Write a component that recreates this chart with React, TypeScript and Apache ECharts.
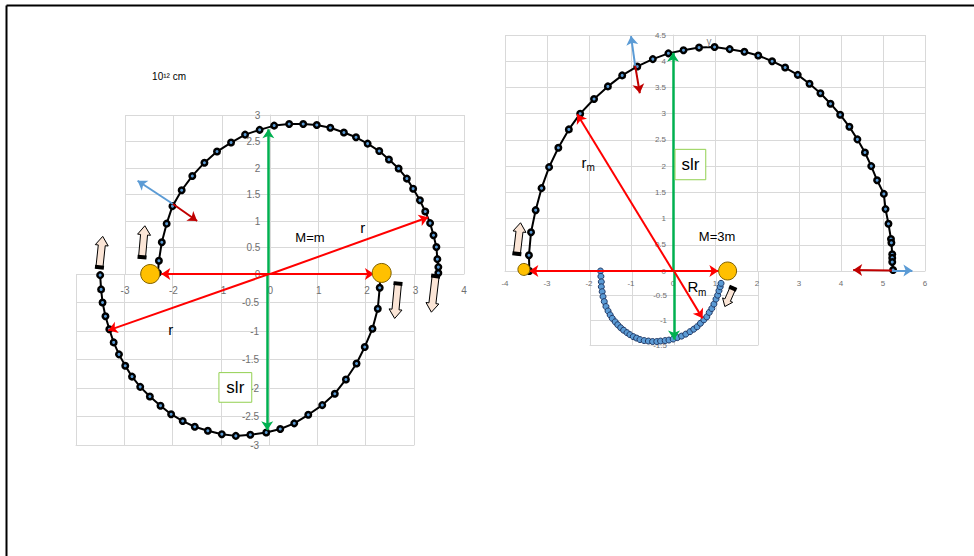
import React, { useEffect, useRef } from "react";
import * as echarts from "echarts";

const FONT = "'Liberation Sans', Arial, sans-serif";
const GRID_LINE = "#d9d9d9";
const TICK_TEXT = "#6f6f6f";

// ---- Orbit samples (units of 10^12 cm) ----
// Left panel, equal masses: upper half (y >= 0) and lower half (y <= 0)
const leftUpperOrbit: number[][] = [
  [-2.32, 0.02], [-2.3, 0.25], [-2.24, 0.6], [-2.14, 0.95], [-2.02, 1.28], [-1.83, 1.58],
  [-1.61, 1.85], [-1.36, 2.1], [-1.1, 2.31], [-0.81, 2.48], [-0.52, 2.63], [-0.22, 2.72],
  [0.08, 2.8], [0.39, 2.83], [0.68, 2.83], [0.96, 2.81], [1.24, 2.76], [1.52, 2.67],
  [1.77, 2.58], [2.01, 2.46], [2.25, 2.32], [2.45, 2.16], [2.65, 1.99], [2.82, 1.8],
  [2.95, 1.61], [3.09, 1.39], [3.2, 1.18], [3.3, 0.96], [3.37, 0.73], [3.43, 0.51],
  [3.45, 0.28], [3.47, 0.13], [3.47, 0.02],
];
const leftLowerOrbit: number[][] = [
  [2.3, -0.05], [2.29, -0.24], [2.25, -0.61], [2.14, -0.96], [1.98, -1.28], [1.81, -1.57],
  [1.59, -1.85], [1.36, -2.1], [1.1, -2.3], [0.81, -2.47], [0.52, -2.62], [0.23, -2.72],
  [-0.06, -2.78], [-0.39, -2.82], [-0.69, -2.84], [-0.98, -2.81], [-1.27, -2.75],
  [-1.54, -2.68], [-1.79, -2.58], [-2.03, -2.46], [-2.25, -2.31], [-2.47, -2.15],
  [-2.67, -1.98], [-2.84, -1.8], [-2.98, -1.61], [-3.11, -1.41], [-3.22, -1.2],
  [-3.31, -0.97], [-3.39, -0.74], [-3.45, -0.5], [-3.48, -0.27], [-3.5, -0.02],
];
// Right panel, M = 3m: orbit of the light body and of the heavy body
const rightUpperOrbit: number[][] = [
  [-3.42, 0.0], [-3.43, 0.3], [-3.38, 0.74], [-3.27, 1.16], [-3.13, 1.58], [-2.95, 1.98],
  [-2.73, 2.35], [-2.48, 2.7], [-2.21, 3.0], [-1.88, 3.28], [-1.55, 3.52], [-1.21, 3.73],
  [-0.85, 3.9], [-0.48, 4.04], [-0.11, 4.15], [0.25, 4.21], [0.62, 4.26], [0.99, 4.27],
  [1.35, 4.23], [1.7, 4.18], [2.03, 4.11], [2.36, 4.0], [2.67, 3.88], [2.97, 3.74],
  [3.25, 3.57], [3.51, 3.39], [3.75, 3.19], [3.98, 2.98], [4.2, 2.75], [4.39, 2.51],
  [4.57, 2.26], [4.72, 2.0], [4.86, 1.73], [5.02, 1.47], [5.06, 1.18], [5.13, 0.9],
  [5.19, 0.61], [5.2, 0.54], [5.22, 0.32], [5.22, 0.25], [5.22, 0.17], [5.24, 0.02],
];
const rightLowerOrbit: number[][] = [
  [-1.75, 0.0], [-1.74, -0.11], [-1.73, -0.22], [-1.73, -0.32], [-1.71, -0.42], [-1.69, -0.52],
  [-1.66, -0.62], [-1.62, -0.72], [-1.57, -0.81], [-1.52, -0.89], [-1.47, -0.96], [-1.4, -1.03],
  [-1.34, -1.09], [-1.27, -1.15], [-1.2, -1.2], [-1.12, -1.25], [-1.05, -1.29], [-0.97, -1.33],
  [-0.89, -1.36], [-0.81, -1.39], [-0.71, -1.41], [-0.61, -1.42], [-0.51, -1.43], [-0.41, -1.43],
  [-0.32, -1.42], [-0.21, -1.41], [-0.12, -1.4], [-0.02, -1.38], [0.08, -1.35], [0.18, -1.32],
  [0.28, -1.28], [0.38, -1.23], [0.47, -1.18], [0.55, -1.13], [0.63, -1.06], [0.71, -0.99],
  [0.78, -0.93], [0.84, -0.84], [0.9, -0.76], [0.95, -0.67], [1.0, -0.57], [1.04, -0.49],
  [1.07, -0.4], [1.1, -0.32], [1.12, -0.25],
];

// Current positions of the bodies
const leftBodies: number[][] = [[-2.48, 0.0], [2.3, 0.02]];
const rightLightBody: number[][] = [[-3.55, 0.03]];
const rightHeavyBody: number[][] = [[1.3, 0.0]];

// Axis ranges [min, max, step] per panel half
const leftUpperX = [-3, 4, 1];
const leftUpperY = [0, 3, 0.5];
const leftLowerX = [-4, 3, 1];
const leftLowerY = [-3, 0, 0.5];
const rightUpperX = [-4, 6, 1];
const rightUpperY = [0, 4.5, 0.5];
const rightLowerX = [-2, 2, 1];
const rightLowerY = [-1.5, 0, 0.5];

// Vector annotations: [grid, fromX, fromY, toX, toY]
const redSeparations: number[][] = [
  [0, -2.25, 0, 2.14, 0],
];
const redRadii: number[][] = [
  [0, 0, 0, 3.26, 1.07],
  [1, 0, 0, -3.33, -0.99],
  [2, 0, 0, -3.42, 0],
  [2, 0, 0, 1.08, 0],
  [2, 0, 0, -2.28, 2.99],
  [3, 0, 0, 0.68, -0.96],
];
const greenLatusRectum: number[][] = [
  [0, -0.04, 0, -0.04, 2.73],
  [1, -0.04, 0, -0.04, -2.74],
  [2, 0, 0, 0, 4.16],
  [3, 0, 0, 0, -1.39],
];
const velocityVectors: number[][] = [
  [0, -2.01, 1.32, -2.74, 1.76],
  [2, -0.9, 3.91, -1.0, 4.48],
  [2, 5.21, 0.01, 5.7, 0.01],
];
const forceVectors: number[][] = [
  [0, -2.01, 1.32, -1.51, 1.0],
  [2, -0.9, 3.91, -0.79, 3.39],
  [2, 5.21, 0.01, 4.29, 0.02],
];
// Direction-of-motion block arrows: [grid, tailX, tailY, tipX, tipY]
const motionArrows: number[][] = [
  [0, -3.53, 0.11, -3.46, 0.71],
  [0, -2.65, 0.3, -2.59, 0.91],
  [1, 2.67, -0.15, 2.6, -0.78],
  [1, 3.45, -0.02, 3.36, -0.67],
  [2, -3.72, 0.31, -3.63, 0.92],
  [3, 1.41, -0.33, 1.21, -0.72],
];

// plot rectangles: [left, top, width, height]
const gridBoxes = [
  [125, 115, 339, 159],
  [76, 274, 338, 171],
  [505, 35, 420, 236],
  [590, 271, 168, 74],
];

const xAxisFor = (gridIndex: number, range: number[], fontSize: number, margin: number, showLabels: boolean) => ({
  type: "value",
  gridIndex,
  min: range[0],
  max: range[1],
  interval: range[2],
  axisLine: { show: true, onZero: false, lineStyle: { color: GRID_LINE, width: 1 } },
  axisTick: { show: false },
  splitLine: { show: true, lineStyle: { color: GRID_LINE, width: 1 } },
  axisLabel: { show: showLabels, color: TICK_TEXT, fontSize, fontFamily: FONT, margin },
});

// y axis is shifted so that it crosses the x axis at x = 0
const yAxisFor = (
  gridIndex: number,
  range: number[],
  xRange: number[],
  fontSize: number,
  margin: number,
  hideZeroLabel: boolean
) => {
  const width = gridBoxes[gridIndex][2];
  const shift = ((0 - xRange[0]) / (xRange[1] - xRange[0])) * width;
  return {
    type: "value",
    gridIndex,
    min: range[0],
    max: range[1],
    interval: range[2],
    position: "left",
    offset: -shift,
    axisLine: { show: true, onZero: false, lineStyle: { color: GRID_LINE, width: 1 } },
    axisTick: { show: false },
    splitLine: { show: true, lineStyle: { color: GRID_LINE, width: 1 } },
    axisLabel: {
      show: true,
      color: TICK_TEXT,
      fontSize,
      fontFamily: FONT,
      margin,
      showMaxLabel: !hideZeroLabel,
    },
  };
};

const arrowLines = (grid: number, list: number[][], color: string, width: number, both: boolean) =>
  list
    .filter((a) => a[0] === grid)
    .map((a) => [
      {
        coord: [a[1], a[2]],
        symbol: both ? "arrow" : "none",
        lineStyle: { color, width, type: "solid" },
      },
      { coord: [a[3], a[4]], symbol: "arrow" },
    ]);

const markLinesFor = (grid: number) => ({
  silent: true,
  animation: false,
  label: { show: false },
  symbolSize: 9,
  data: [
    ...arrowLines(grid, greenLatusRectum, "#00b050", 2.5, false),
    ...arrowLines(grid, redSeparations, "#ff0000", 2, true),
    ...arrowLines(grid, redRadii, "#ff0000", 2, false),
    ...arrowLines(grid, velocityVectors, "#5b9bd5", 2, false),
    ...arrowLines(grid, forceVectors, "#c00000", 2, false),
  ],
});

const orbitLine = (grid: number, data: number[][]) => ({
  type: "line",
  xAxisIndex: grid,
  yAxisIndex: grid,
  data,
  clip: false,
  z: 2,
  symbol: "circle",
  symbolSize: 5.5,
  showAllSymbol: true,
  lineStyle: { color: "#000", width: 2 },
  itemStyle: { color: "#5b9bd5", borderColor: "#000", borderWidth: 2.5 },
  markLine: markLinesFor(grid),
});

const bodies = (grid: number, data: number[][], size: number) => ({
  type: "scatter",
  xAxisIndex: grid,
  yAxisIndex: grid,
  data,
  clip: false,
  z: 5,
  symbol: "circle",
  symbolSize: size,
  itemStyle: { color: "#ffc000", borderColor: "#7f6000", borderWidth: 1, opacity: 1 },
});

function buildOption() {
  return {
    animation: false,
    backgroundColor: "#ffffff",
    grid: gridBoxes.map((b) => ({ left: b[0], top: b[1], width: b[2], height: b[3] })),
    xAxis: [
      xAxisFor(0, leftUpperX, 10, 11, true),
      xAxisFor(1, leftLowerX, 10, 11, false),
      xAxisFor(2, rightUpperX, 8, 8, true),
      xAxisFor(3, rightLowerX, 8, 8, false),
    ],
    yAxis: [
      yAxisFor(0, leftUpperY, leftUpperX, 10, 10, false),
      yAxisFor(1, leftLowerY, leftLowerX, 10, 10, true),
      yAxisFor(2, rightUpperY, rightUpperX, 8, 7, false),
      yAxisFor(3, rightLowerY, rightLowerX, 8, 7, true),
    ],
    series: [
      orbitLine(0, leftUpperOrbit),
      orbitLine(1, leftLowerOrbit),
      orbitLine(2, rightUpperOrbit),
      {
        type: "scatter",
        xAxisIndex: 3,
        yAxisIndex: 3,
        data: rightLowerOrbit,
        clip: false,
        z: 3,
        symbol: "circle",
        symbolSize: 6,
        itemStyle: { color: "#5b9bd5", borderColor: "#203864", borderWidth: 1, opacity: 1 },
        markLine: markLinesFor(3),
      },
      bodies(0, leftBodies, 19),
      bodies(2, rightLightBody, 12),
      bodies(2, rightHeavyBody, 18),
    ],
  };
}

type ToPx = (g: number, p: number[]) => number[];

function blockArrow(tail: number[], tip: number[], body: number, head: number, headLen: number) {
  const dx = tip[0] - tail[0];
  const dy = tip[1] - tail[1];
  const len = Math.hypot(dx, dy);
  const ux = dx / len;
  const uy = dy / len;
  const nx = -uy;
  const ny = ux;
  const P = (a: number, c: number) => [tail[0] + ux * a + nx * c, tail[1] + uy * a + ny * c];
  const b = body / 2;
  const h = head / 2;
  const s = len - headLen;
  return [
    {
      type: "polygon",
      z: 20,
      shape: { points: [P(0, -b), P(s, -b), P(s, -h), P(len, 0), P(s, h), P(s, b), P(0, b)] },
      style: { fill: "#fbe5d6", stroke: "#000", lineWidth: 1 },
    },
    {
      type: "polygon",
      z: 21,
      shape: { points: [P(-1, -b - 1), P(3, -b - 1), P(3, b + 1), P(-1, b + 1)] },
      style: { fill: "#000" },
    },
  ];
}

function label(p: number[], text: string, fontSize: number, fill = "#000", align = "center") {
  return {
    type: "text",
    z: 30,
    x: p[0],
    y: p[1],
    style: {
      text,
      fontSize,
      fontFamily: FONT,
      fill,
      align,
      textAlign: align,
      verticalAlign: "middle",
      textVerticalAlign: "middle",
    },
  };
}

function slrBox(a: number[], b: number[]) {
  const x = Math.min(a[0], b[0]);
  const y = Math.min(a[1], b[1]);
  const w = Math.abs(b[0] - a[0]);
  const h = Math.abs(b[1] - a[1]);
  return [
    {
      type: "rect",
      z: 25,
      shape: { x, y, width: w, height: h },
      style: { fill: "#ffffff", stroke: "#92d050", lineWidth: 1 },
    },
    label([x + w / 2, y + h / 2], "slr", 17),
  ];
}

function buildGraphics(at: ToPx) {
  const els: any[] = [];
  // page frame
  els.push({ type: "line", z: 40, shape: { x1: 6.5, y1: 5.5, x2: 974, y2: 5.5 }, style: { stroke: "#000", lineWidth: 2 } });
  els.push({ type: "line", z: 40, shape: { x1: 6.5, y1: 5.5, x2: 6.5, y2: 556 }, style: { stroke: "#000", lineWidth: 2 } });

  motionArrows.forEach((m, i) => {
    const tail = at(m[0], [m[1], m[2]]);
    const tip = at(m[0], [m[3], m[4]]);
    const small = i === 5;
    els.push(...blockArrow(tail, tip, small ? 6 : 7, small ? 11 : 13, small ? 7 : 9));
  });

  // left panel
  els.push(label(at(0, [-2.44, 3.72]), "10\u00b9\u00b2 cm", 10, "#000", "left"));
  els.push(label(at(0, [0.82, 0.69]), "M=m", 13));
  els.push(label(at(0, [1.91, 0.88]), "r", 15));
  els.push(label(at(1, [-2.04, -0.97]), "r", 15));
  els.push(...slrBox(at(1, [-1.04, -1.73]), at(1, [-0.36, -2.25])));

  // right panel
  els.push(label(at(2, [1.05, 0.65]), "M=3m", 13));
  els.push(label(at(2, [-2.12, 2.07]), "r", 15));
  els.push(label(at(2, [-1.96, 1.97]), "m", 10));
  els.push(label(at(3, [0.45, -0.32]), "R", 15));
  els.push(label(at(3, [0.67, -0.44]), "m", 10));
  els.push(label(at(2, [0.86, 4.37]), "y", 10, "#7f7f7f"));
  const boxA = at(2, [0, 2.32]);
  const boxB = at(2, [0.78, 1.74]);
  els.push(...slrBox([boxA[0] + 2, boxA[1]], boxB));
  return els;
}

export default function App() {
  const ref = useRef<HTMLDivElement>(null);
  useEffect(() => {
    if (!ref.current) return;
    const chart = echarts.init(ref.current, null, { renderer: "svg", width: 974, height: 556 });
    chart.setOption(buildOption() as any);
    const at: ToPx = (g, p) => chart.convertToPixel({ gridIndex: g } as any, p) as number[];
    chart.setOption({ graphic: { elements: buildGraphics(at) } } as any);
    return () => chart.dispose();
  }, []);
  return (
    <div
      ref={ref}
      style={{ position: "fixed", left: 0, top: 0, width: 974, height: 556, background: "#fff" }}
    />
  );
}
